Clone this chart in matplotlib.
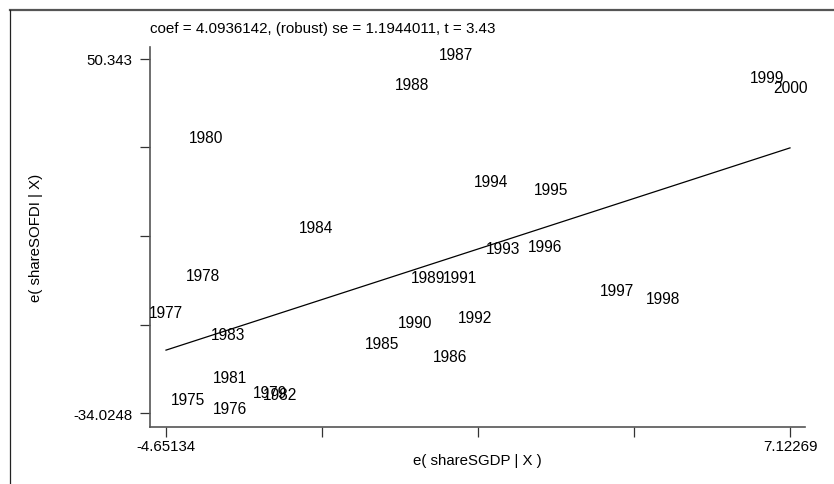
import matplotlib
matplotlib.use('Agg')
import matplotlib.pyplot as plt
from matplotlib.lines import Line2D

plt.rcParams['font.family'] = ['Liberation Sans', 'DejaVu Sans']

# residuals from the added-variable plot, one label per year
years = [1975, 1976, 1977, 1978, 1979, 1980, 1981, 1982, 1983, 1984,
         1985, 1986, 1987, 1988, 1989, 1990, 1991, 1992, 1993, 1994,
         1995, 1996, 1997, 1998, 1999, 2000]
e_sgdp = [-4.227, -3.453, -4.65134, -3.944, -2.698, -3.887, -3.453, -2.491, -3.472, -1.812,
          -0.566, 0.717, 0.830, 0.000, 0.302, 0.056, 0.905, 1.188, 1.717, 1.491,
          2.623, 2.509, 3.849, 4.736, 6.698, 7.12269]
e_sofdi = [-31.76, -34.0248, -11.03, -2.21, -30.09, 30.68, -26.52, -30.57, -16.27, 9.23,
           -18.41, -21.51, 50.343, 43.31, -2.69, -13.41, -2.69, -12.22, 4.23, 20.19,
           18.29, 4.70, -5.78, -7.69, 44.98, 42.60]

coef = 4.0936142
se = 1.1944011
tstat = 3.43

xmin, xmax = min(e_sgdp), max(e_sgdp)
ymin, ymax = min(e_sofdi), max(e_sofdi)

fig = plt.figure(figsize=(8.34, 4.85), dpi=100)
ax = fig.add_axes([150/834, 57/485, 655/834, 380/485])

# labels centred on the (invisible) points
for yr, x, y in zip(years, e_sgdp, e_sofdi):
    ax.annotate(str(yr), (x, y), xytext=(0, 3), textcoords='offset points',
                ha='center', va='center', fontsize=11.2, color='black')

# fitted line through the origin
ax.plot([xmin, xmax], [coef*xmin, coef*xmax], color='black', lw=0.9)

xstep = (xmax - xmin) / 4
ystep = (ymax - ymin) / 4
xticks = [xmin + i*xstep for i in range(5)]
yticks = [ymin + i*ystep for i in range(5)]
ax.set_xticks(xticks)
ax.set_xticklabels(['%.5f' % xmin, '', '', '', '%.5f' % xmax])
ax.set_yticks(yticks)
ax.set_yticklabels(['%.4f' % ymin, '', '', '', '%.3f' % ymax])

ax.set_xlim(xmin - 16/53.0, xmax + 15/53.0)
ax.set_ylim(ymin - 14/4.196, ymax + 12/4.196)

for side in ['top', 'right']:
    ax.spines[side].set_visible(False)
for side in ['left', 'bottom']:
    ax.spines[side].set_color('#555555')
    ax.spines[side].set_linewidth(1.2)
ax.tick_params(direction='out', length=7, width=0.9, color='#333333',
               labelsize=10.8, pad=2)
ax.tick_params(axis='y', pad=5.5)

ax.set_xlabel('e( shareSGDP | X )', fontsize=10.8, labelpad=0)
ax.set_ylabel('e( shareSOFDI | X)', fontsize=10.8, labelpad=22)

fig.text(150/834, 1 - 29.5/485, 'coef = %.7f, (robust) se = %.7f, t = %.2f' % (coef, se, tstat),
         ha='left', va='center', fontsize=10.9)

# outer window frame
fig.add_artist(Line2D([10/834, 1], [1 - 10.7/485, 1 - 10.7/485], color='#555555', lw=1.6))
fig.add_artist(Line2D([10/834, 10/834], [0, 1 - 10.7/485], color='#222222', lw=0.9))

fig.savefig('out.png', dpi=100)
